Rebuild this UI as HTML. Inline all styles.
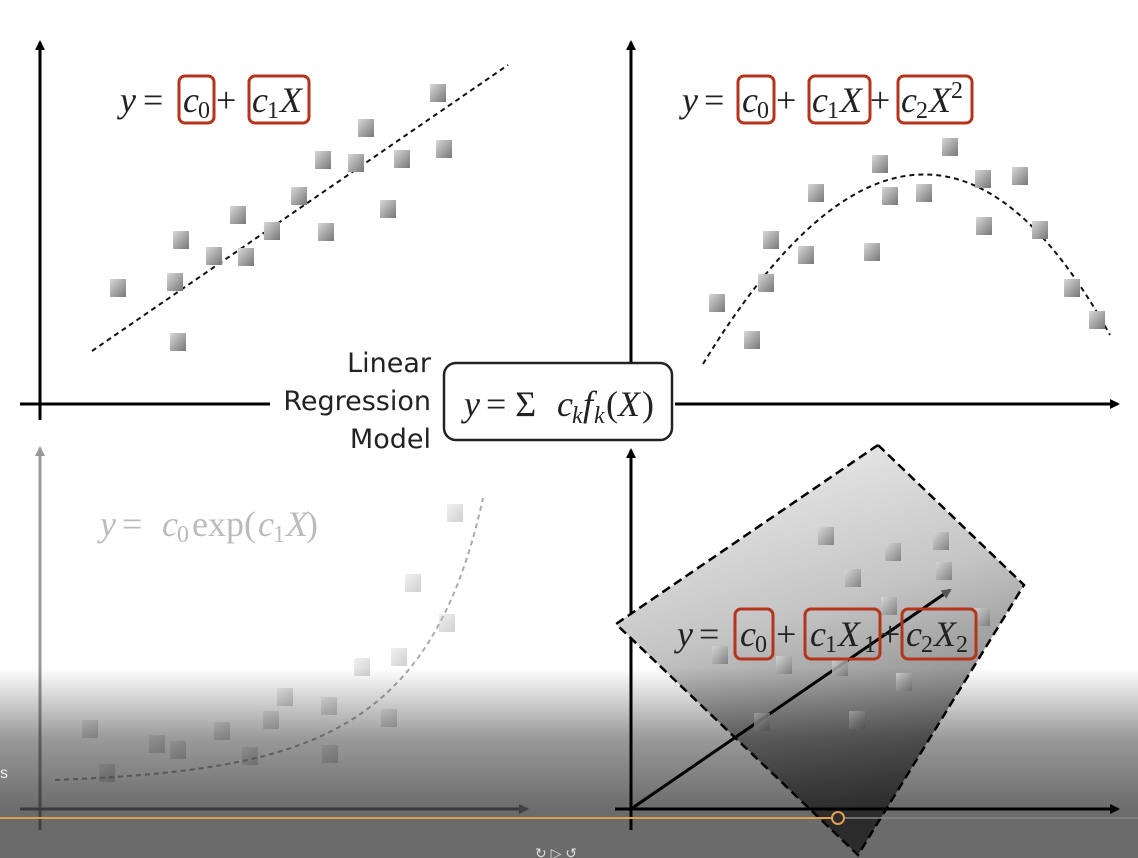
<!DOCTYPE html>
<html><head><meta charset="utf-8"><style>
html,body{margin:0;padding:0;background:#fff;}
svg{display:block}
.eq{font-family:"Liberation Serif",serif;font-style:italic;font-size:36px;fill:#222}
.up{font-family:"Liberation Serif",serif;font-size:36px;fill:#222}
.sub{font-family:"Liberation Serif",serif;font-size:24px;fill:#222}
.lbl{font-family:"DejaVu Sans","Liberation Sans",sans-serif;font-size:27px;fill:#222}
</style></head><body>
<svg id="fig" width="1138" height="858" viewBox="0 0 1138 858">
<defs>
<linearGradient id="cube" x1="0" y1="0" x2="1" y2="1"><stop offset="0" stop-color="#d8d8d8"/><stop offset="1" stop-color="#777"/></linearGradient>
<linearGradient id="plane" x1="0" y1="0" x2="0.3" y2="1"><stop offset="0" stop-color="#f4f4f4"/><stop offset="0.5" stop-color="#c4c4c4"/><stop offset="1" stop-color="#666"/></linearGradient>
<linearGradient id="shade" x1="0" y1="0" x2="0" y2="1"><stop offset="0" stop-color="#000" stop-opacity="0"/><stop offset="0.15" stop-color="#000" stop-opacity="0.12"/><stop offset="0.5" stop-color="#000" stop-opacity="0.4"/><stop offset="1" stop-color="#000" stop-opacity="0.58"/></linearGradient>
<marker id="ar" markerWidth="10" markerHeight="10" refX="8" refY="5" orient="auto" markerUnits="userSpaceOnUse"><path d="M0,0 L10,5 L0,10 z" fill="#000"/></marker>
<marker id="arg" markerWidth="10" markerHeight="10" refX="8" refY="5" orient="auto" markerUnits="userSpaceOnUse"><path d="M0,0 L10,5 L0,10 z" fill="#999"/></marker>
<marker id="ard" markerWidth="10" markerHeight="10" refX="8" refY="5" orient="auto" markerUnits="userSpaceOnUse"><path d="M0,0 L10,5 L0,10 z" fill="#555"/></marker>
</defs>

<line x1="40" y1="420" x2="40" y2="42" stroke="#000" stroke-width="3" marker-end="url(#ar)"/>
<line x1="20" y1="404" x2="270" y2="404" stroke="#000" stroke-width="3"/>
<line x1="631" y1="404" x2="631" y2="42" stroke="#000" stroke-width="3" marker-end="url(#ar)"/>
<line x1="675" y1="404" x2="1118" y2="404" stroke="#000" stroke-width="3" marker-end="url(#ar)"/>
<line x1="40" y1="830" x2="40" y2="448" stroke="#999" stroke-width="3" marker-end="url(#arg)"/>
<line x1="20" y1="809" x2="527" y2="809" stroke="#888" stroke-width="3" marker-end="url(#arg)"/>
<line x1="631" y1="830" x2="631" y2="450" stroke="#000" stroke-width="3" marker-end="url(#ar)"/>

<polygon points="878,445 1024,585 858,855 616,624" fill="url(#plane)" stroke="#000" stroke-width="2.5" stroke-dasharray="9,5"/>
<line x1="615" y1="809" x2="1118" y2="809" stroke="#000" stroke-width="3" marker-end="url(#ar)"/>
<line x1="631" y1="809" x2="950" y2="590" stroke="#000" stroke-width="3" marker-end="url(#ard)"/>

<line x1="92" y1="351" x2="508" y2="65" stroke="#111" stroke-width="2" stroke-dasharray="5,4"/>
<path d="M703,364 Q925,0 1110,335" fill="none" stroke="#111" stroke-width="2" stroke-dasharray="5,4"/>
<path d="M55,780 C300,770 430,740 483,498" fill="none" stroke="#aaa" stroke-width="2" stroke-dasharray="5,4"/>

<g id="cubes"></g>

<g>
<rect x="179" y="76" width="35" height="47" rx="6" fill="none" stroke="#b5341c" stroke-width="3"/>
<rect x="249" y="76" width="60" height="47" rx="6" fill="none" stroke="#b5341c" stroke-width="3"/>
<text x="120" y="112" class="eq">y</text><text x="143" y="112" class="up">=</text>
<text x="183" y="112" class="eq">c</text><text x="198" y="118" class="sub">0</text>
<text x="216" y="112" class="up">+</text>
<text x="252" y="112" class="eq">c</text><text x="267" y="118" class="sub">1</text><text x="280" y="112" class="eq">X</text>
</g>
<g>
<rect x="738" y="76" width="36" height="47" rx="6" fill="none" stroke="#b5341c" stroke-width="3"/>
<rect x="809" y="76" width="61" height="47" rx="6" fill="none" stroke="#b5341c" stroke-width="3"/>
<rect x="898" y="76" width="74" height="47" rx="6" fill="none" stroke="#b5341c" stroke-width="3"/>
<text x="682" y="112" class="eq">y</text><text x="704" y="112" class="up">=</text>
<text x="742" y="112" class="eq">c</text><text x="757" y="118" class="sub">0</text>
<text x="776" y="112" class="up">+</text>
<text x="812" y="112" class="eq">c</text><text x="827" y="118" class="sub">1</text><text x="840" y="112" class="eq">X</text>
<text x="870" y="112" class="up">+</text>
<text x="901" y="112" class="eq">c</text><text x="916" y="118" class="sub">2</text><text x="929" y="112" class="eq">X</text><text x="951" y="98" class="sub">2</text>
</g>
<g opacity="0.3">
<text x="100" y="536" class="eq">y</text><text x="122" y="536" class="up">=</text>
<text x="162" y="536" class="eq">c</text><text x="177" y="542" class="sub">0</text>
<text x="192" y="536" class="up">exp(</text><text x="258" y="536" class="eq">c</text><text x="273" y="542" class="sub">1</text><text x="286" y="536" class="eq">X</text><text x="306" y="536" class="up">)</text>
</g>
<g>
<rect x="735" y="609" width="38" height="50" rx="6" fill="none" stroke="#b5341c" stroke-width="3"/>
<rect x="805" y="609" width="75" height="50" rx="6" fill="none" stroke="#b5341c" stroke-width="3"/>
<text x="677" y="646" class="eq">y</text><text x="699" y="646" class="up">=</text>
<text x="740" y="646" class="eq">c</text><text x="755" y="652" class="sub">0</text>
<text x="776" y="646" class="up">+</text>
<text x="810" y="646" class="eq">c</text><text x="825" y="652" class="sub">1</text><text x="838" y="646" class="eq">X</text><text x="864" y="652" class="sub">1</text>
<text x="880" y="646" class="up">+</text>
<rect x="902" y="609" width="74" height="50" rx="6" fill="none" stroke="#b5341c" stroke-width="3"/>
<text x="906" y="646" class="eq">c</text><text x="921" y="652" class="sub">2</text><text x="934" y="646" class="eq">X</text><text x="956" y="652" class="sub">2</text>
</g>

<g>
<text x="431" y="372" class="lbl" text-anchor="end">Linear</text>
<text x="431" y="410" class="lbl" text-anchor="end">Regression</text>
<text x="431" y="448" class="lbl" text-anchor="end">Model</text>
</g>
<g>
<rect x="444" y="363" width="228" height="77" rx="12" fill="#fff" stroke="#222" stroke-width="2.5"/>
<text x="464" y="416" class="eq">y</text><text x="486" y="416" class="up">= Σ</text>
<text x="557" y="416" class="eq">c</text><text x="572" y="423" class="sub" font-style="italic">k</text>
<text x="583" y="416" class="eq">f</text><text x="594" y="423" class="sub" font-style="italic">k</text>
<text x="606" y="416" class="up">(</text><text x="618" y="416" class="eq">X</text><text x="642" y="416" class="up">)</text>
</g>

<rect x="0" y="668" width="1138" height="142" fill="url(#shade)"/>
<rect x="0" y="810" width="1138" height="48" fill="#000" opacity="0.58"/>
<line x1="0" y1="818" x2="832" y2="818" stroke="#d9a050" stroke-width="2"/>
<line x1="844" y1="818" x2="1138" y2="818" stroke="#888" stroke-width="1.5"/>
<circle cx="838" cy="818" r="6" fill="none" stroke="#e0a050" stroke-width="2"/>
<text x="0" y="778" font-family="Liberation Sans,sans-serif" font-size="16" fill="#eee">s</text>
<text x="535" y="858" font-family="Liberation Sans,sans-serif" font-size="14" fill="#ddd">↻ ▷ ↺</text>
</svg>
<script>
const tlX=[118,175,178,181,214,238,246,272,299,323,326,356,366,388,402,438,444];
const tlY=[288,282,342,240,256,215,257,231,196,160,232,163,128,209,159,93,149];
const trX=[717,752,766,771,806,816,872,880,890,924,950,983,984,1020,1040,1072,1097];
const trY=[303,340,283,240,255,193,252,164,196,193,147,179,226,176,230,288,320];
const blX=[90,107,157,178,222,250,271,285,329,330,362,389,399,413,447,455];
const blY=[729,773,744,750,731,756,720,697,706,754,667,718,657,583,623,513];
const brX=[826,853,893,941,944,889,982,720,784,840,904,857,762];
const brY=[536,578,552,541,571,606,617,655,665,667,682,720,722];
const g=document.getElementById('cubes');
function draw(xs,ys,op,name){
  xs.forEach((x,i)=>{
    const r=document.createElementNS('http://www.w3.org/2000/svg','rect');
    r.setAttribute('x',x-8);r.setAttribute('y',ys[i]-9);
    r.setAttribute('width',16);r.setAttribute('height',18);
    r.setAttribute('fill','url(#cube)');r.setAttribute('opacity',op);
    
    
    g.appendChild(r);
  });
}
draw(tlX,tlY,1,'tl-data-point');
draw(trX,trY,1,'tr-data-point');
draw(blX,blY,0.35,'bl-data-point');
draw(brX,brY,0.85,'br-data-point');
</script>
</body></html>
